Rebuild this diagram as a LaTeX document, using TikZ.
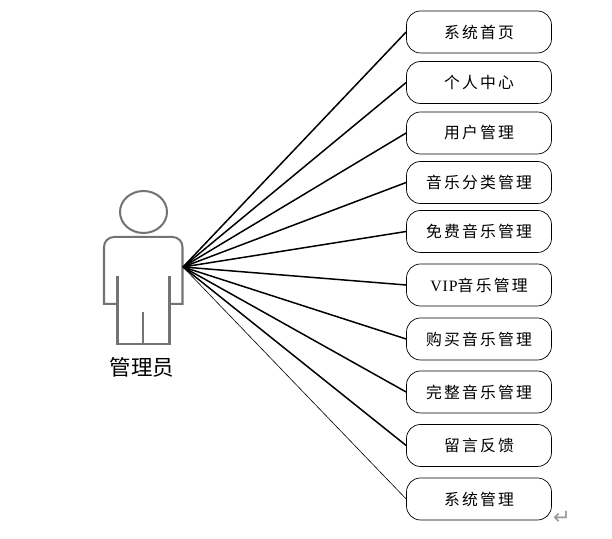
\documentclass[tikz,border=0pt]{standalone}
\usepackage{fontspec}
\newfontfamily\cjk[LetterSpace=14]{Noto Sans CJK SC}
\newfontfamily\cjkplain{Noto Sans CJK SC}
\newfontfamily\latinpart[LetterSpace=6]{Liberation Serif}
\newfontfamily\marksym{DejaVu Sans}
\tikzset{
  menubox/.style={draw, rectangle, rounded corners=0.28cm, minimum width=2.9cm, minimum height=0.84cm, inner sep=0pt, font=\cjk\fontsize{9pt}{10pt}\selectfont},
  person/.style={draw=black!55, line width=1.15pt},
  link/.style={line width=0.85pt}
}
\begin{document}
\begin{tikzpicture}
\useasboundingbox (0,0) rectangle (12.24,10.78);
% person
\draw[person] (2.87,6.54) ellipse (0.47cm and 0.42cm);
\draw[person] (2.35,4.70) -- (2.08,4.70) [rounded corners=0.2cm] -- (2.08,6.04) -- (3.65,6.04) [sharp corners] -- (3.65,4.70) -- (3.39,4.70);
\draw[person] (2.35,5.26) -- (2.35,3.90) -- (3.39,3.90) -- (3.39,5.26);
\draw[person] (2.86,3.90) -- (2.86,4.53);
\node (admin) at (2.84,3.43) {\cjkplain\fontsize{12.2pt}{14pt}\selectfont 管理员};
\coordinate (hub) at (3.66,5.44);
% menu
\node[menubox] (n1) at (9.58,10.14) {系统首页};
\node[menubox] (n2) at (9.58,9.13) {个人中心};
\node[menubox] (n3) at (9.58,8.12) {用户管理};
\node[menubox] (n4) at (9.58,7.13) {音乐分类管理};
\node[menubox] (n5) at (9.58,6.15) {免费音乐管理};
\node[menubox] (n6) at (9.58,5.08) {{\latinpart VIP}音乐管理};
\node[menubox] (n7) at (9.58,4.00) {购买音乐管理};
\node[menubox] (n8) at (9.58,2.94) {完整音乐管理};
\node[menubox] (n9) at (9.58,1.87) {留言反馈};
\node[menubox] (n10) at (9.58,0.80) {系统管理};
\draw[link] (hub) -- (n1.west);
\draw[link] (hub) -- (n2.west);
\draw[link] (hub) -- (n3.west);
\draw[link] (hub) -- (n4.west);
\draw[link] (hub) -- (n5.west);
\draw[link] (hub) -- (n6.west);
\draw[link] (hub) -- (n7.west);
\draw[link] (hub) -- (n8.west);
\draw[link] (hub) -- (n9.west);
\draw[line width=0.35pt] (hub) -- (n10.west);
\node[text=black!40, inner sep=0pt] (mark) at (11.24,0.42) {\marksym\fontsize{12pt}{14pt}\selectfont ↵};
\end{tikzpicture}
\end{document}
